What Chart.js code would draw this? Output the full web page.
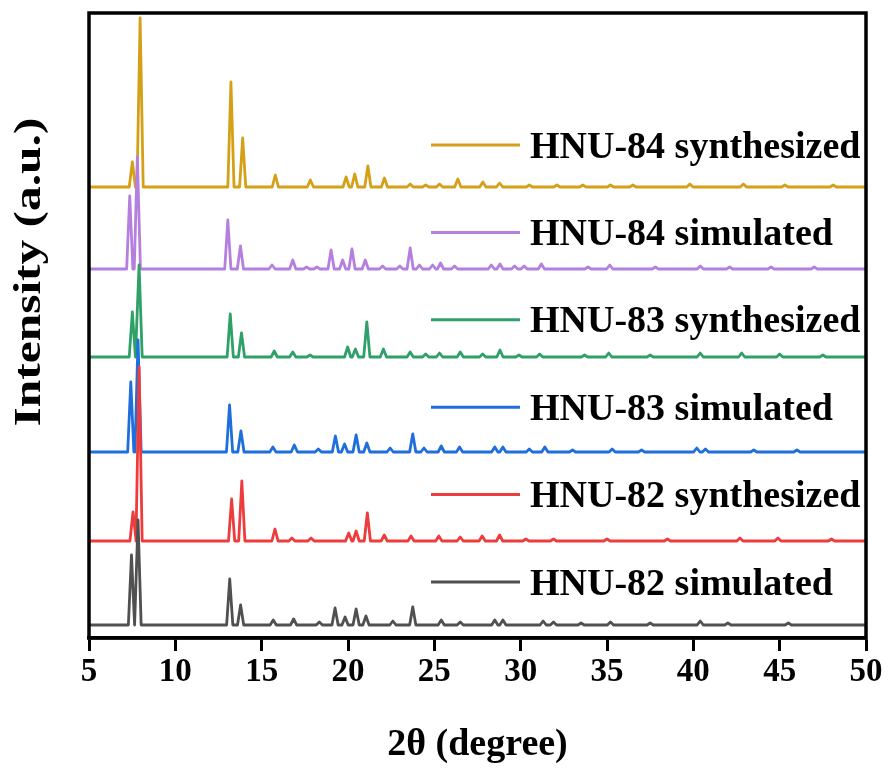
<!DOCTYPE html>
<html>
<head>
<meta charset="utf-8">
<script src="https://cdn.jsdelivr.net/npm/chart.js@4.4.0/dist/chart.umd.min.js"></script>
<style>
    html, body { margin: 0; padding: 0; background: #fff; }
</style>
</head>
<body>
<canvas id="xrd" width="889" height="769"></canvas>
<script>
// ==============================
// PXRD — HNU-82 / 83 / 84
// ==============================

// --- Séries (de baixo para cima) ---
const names   = ['HNU-82 simulated', 'HNU-82 synthesized', 'HNU-83 simulated',
                 'HNU-83 synthesized', 'HNU-84 simulated', 'HNU-84 synthesized'];
const colors  = ['#505050', '#EE3C3C', '#1E6EDC', '#2EA068', '#B57FE0', '#D4A017'];
const offsets = [13, 97, 186, 281, 369, 451];   // deslocamento vertical de cada curva

const xTicks = [5, 10, 15, 20, 25, 30, 35, 40, 45, 50];

// picos [2θ, intensidade]
const hnu82Sim = [[7.46,70],[7.84,105],[13.15,46],[13.78,20],[15.67,5],[16.85,6],[18.34,3],[19.25,17],[19.83,8],
    [20.47,16],[21.04,9],[22.6,4],[23.75,18],[25.4,5],[26.5,3],[28.5,5],[28.97,5],[31.3,4],[31.9,3],[33.5,2],
    [35.2,3],[37.5,2],[40.4,4],[42.0,2],[45.5,2]];
const hnu82Syn = [[7.55,29],[7.9,174],[13.26,42],[13.85,60],[15.77,12],[16.75,3],[17.86,3],[20.04,8],[20.47,10],
    [21.12,28],[22.1,6],[23.65,5],[25.26,5],[26.5,4],[27.77,5],[28.78,6],[30.3,2],[31.9,2],[35.0,2],[38.5,2],
    [42.7,3],[44.9,3],[48.0,2]];
const hnu83Sim = [[7.42,70],[7.84,112],[13.14,47],[13.8,21],[15.65,5],[16.89,7],[18.28,3],[19.27,16],[19.8,8],
    [20.47,17],[21.09,9],[22.44,4],[23.75,18],[24.4,4],[25.4,6],[26.46,5],[28.5,5],[28.97,5],[30.5,3],[31.4,5],
    [33.0,2],[35.3,3],[37.0,2],[40.2,4],[40.7,3],[43.5,2],[46.0,2]];
const hnu83Syn = [[7.51,45],[7.9,92],[13.18,43],[13.83,24],[15.73,6],[16.8,5],[17.8,2],[19.98,10],[20.43,8],
    [21.09,35],[22.05,8],[23.6,5],[24.5,3],[25.3,4],[26.5,5],[27.8,3],[28.8,7],[29.9,2],[31.1,3],[33.7,2],
    [35.1,4],[37.5,2],[40.4,4],[42.8,4],[45.0,3],[47.5,2]];
const hnu84Sim = [[7.36,73],[7.8,112],[13.04,49],[13.77,23],[15.6,4],[16.8,9],[17.6,2],[18.2,2],[19.02,19],
    [19.69,9],[20.23,20],[21.0,9],[22.0,3],[23.0,3],[23.6,21],[24.14,4],[24.9,4],[25.36,6],[26.17,3],[28.3,4],
    [28.8,5],[29.65,3],[30.2,3],[31.2,5],[33.9,2],[35.16,4],[37.8,2],[40.4,3],[42.1,2],[44.5,2],[47.0,2]];
const hnu84Syn = [[7.51,25],[7.96,169],[13.22,105],[13.9,49],[15.79,12],[17.82,7],[19.89,10],[20.39,13],
    [21.15,21],[22.11,9],[23.6,3],[24.5,2],[25.3,3],[26.36,8],[27.81,5],[28.78,4],[30.5,2],[32.1,2],[33.6,2],
    [35.2,2],[36.5,2],[39.8,3],[42.9,3],[45.3,2],[48.1,2]];

const peaks = [hnu82Sim, hnu82Syn, hnu83Sim, hnu83Syn, hnu84Sim, hnu84Syn];

// --- Estilo ---
const FONT = 'Liberation Serif';
const PEAK_HW = 0.18;   // meia largura da base de cada pico (graus)

// --- Monta a curva: linha de base + cada pico ---
function perfil(lista, base) {
    const pts = [{ x: 5, y: base }];
    lista.forEach(([pos, h]) => {
        pts.push({ x: pos - PEAK_HW, y: base });
        pts.push({ x: pos, y: base + h });
        pts.push({ x: pos + PEAK_HW, y: base });
    });
    pts.push({ x: 50, y: base });
    return pts;
}

// dataset 0 fica por cima
const datasets = peaks.map((lista, i) => ({
    label: names[i],
    data: perfil(lista, offsets[i]),
    borderColor: colors[i],
    borderWidth: 2.8,
    borderJoinStyle: 'round',
    pointRadius: 0,
    tension: 0,
    fill: false
}));

// --- Moldura, legenda e títulos ---
const extras = {
    id: 'extras',
    afterDraw(chart) {
        const { ctx, chartArea: a } = chart;
        ctx.save();

        ctx.strokeStyle = '#000';
        ctx.lineWidth = 3.5;
        ctx.strokeRect(a.left, a.top, a.right - a.left, a.bottom - a.top);

        // legenda, de cima para baixo
        ctx.font = `bold 38px ${FONT}`;
        ctx.fillStyle = '#000';
        ctx.textBaseline = 'alphabetic';
        ctx.textAlign = 'left';
        for (let k = 0; k < names.length; k++) {
            const i = names.length - 1 - k;
            const y = a.top + 132 + k * 87.4;
            ctx.strokeStyle = colors[i];
            ctx.lineWidth = 3;
            ctx.beginPath();
            ctx.moveTo(431, y);
            ctx.lineTo(520, y);
            ctx.stroke();
            ctx.fillText(names[i], 530, y + 12.5);
        }

        // título do eixo x
        ctx.textAlign = 'center';
        ctx.textBaseline = 'middle';
        ctx.font = `bold 38px ${FONT}`;
        ctx.fillText('2θ (degree)', (a.left + a.right) / 2, 745);

        // título do eixo y
        ctx.translate(30, 272);
        ctx.rotate(-Math.PI / 2);
        ctx.scale(1.3, 1);
        ctx.font = `bold 38px ${FONT}`;
        ctx.fillText('Intensity (a.u.)', 0, 0);

        ctx.restore();
    }
};

new Chart(document.getElementById('xrd'), {
    type: 'line',
    data: { datasets },
    options: {
        responsive: false,
        animation: false,
        layout: { padding: { left: 89, right: 23, top: 13, bottom: 0 } },
        plugins: { legend: { display: false }, tooltip: { enabled: false } },
        scales: {
            x: {
                type: 'linear',
                min: xTicks[0],
                max: xTicks[xTicks.length - 1],
                afterBuildTicks: scale => { scale.ticks = xTicks.map(v => ({ value: v })); },
                afterFit: scale => { scale.height = 131; },
                ticks: {
                    color: '#000',
                    padding: 2,
                    maxRotation: 0,
                    autoSkip: false,
                    font: { family: FONT, size: 33, weight: 'bold' }
                },
                grid: {
                    drawOnChartArea: false,
                    drawTicks: true,
                    tickLength: 13,
                    tickWidth: 3,
                    color: '#000'
                },
                border: { display: true, color: '#000', width: 3.5 }
            },
            y: { display: false, min: 0, max: 625 }
        }
    },
    plugins: [extras]
});
</script>
</body>
</html>
